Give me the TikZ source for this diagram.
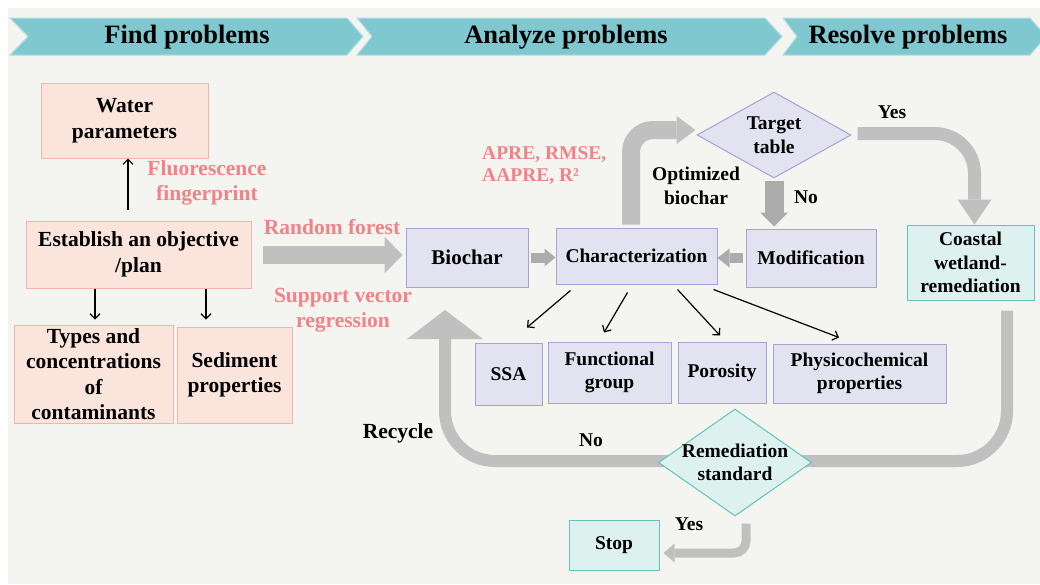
\documentclass[tikz,border=0pt]{standalone}
\usepackage{fontspec}
\setmainfont{Liberation Serif}
\usetikzlibrary{arrows.meta,shapes.geometric,calc}
\definecolor{bg}{RGB}{244,244,240}
\definecolor{chevF}{RGB}{128,200,208}
\definecolor{chevB}{RGB}{175,222,228}
\definecolor{pinkF}{RGB}{251,228,220}
\definecolor{pinkB}{RGB}{240,180,175}
\definecolor{pinkT}{RGB}{242,130,135}
\definecolor{purF}{RGB}{226,226,240}
\definecolor{purB}{RGB}{168,160,214}
\definecolor{tealF}{RGB}{221,241,239}
\definecolor{tealB}{RGB}{95,196,190}
\definecolor{greyA}{RGB}{192,192,192}
\definecolor{greyD}{RGB}{172,172,172}
\tikzset{
  hdr/.style={font=\fontsize{26.5}{30}\selectfont\bfseries},
  chev/.style={fill=chevF, draw=chevB, line width=1pt},
  pinkbox/.style={draw=pinkB, fill=pinkF, line width=1pt, align=center, inner sep=0pt,
    font=\fontsize{21.5}{25.5}\selectfont\bfseries},
  purbox/.style={draw=purB, fill=purF, line width=1pt, align=center, inner sep=0pt,
    font=\fontsize{19.5}{23.5}\selectfont\bfseries},
  tealbox/.style={draw=tealB, fill=tealF, line width=1pt, align=center, inner sep=0pt,
    font=\fontsize{19.5}{23.5}\selectfont\bfseries},
  pinktxt/.style={text=pinkT, align=center, inner sep=0pt,
    font=\fontsize{21.5}{25.5}\selectfont\bfseries},
  pinktxtR/.style={text=pinkT, align=left, inner sep=0pt,
    font=\fontsize{19.5}{22}\selectfont\bfseries},
  lbl/.style={align=center, inner sep=0pt, font=\fontsize{19.5}{23.5}\selectfont\bfseries},
  lblL/.style={align=center, inner sep=0pt, font=\fontsize{21.5}{25.5}\selectfont\bfseries},
  thinarrow/.style={line width=1.2pt, -{Straight Barb[length=5pt,width=10pt]}},
  garrow/.style={draw=greyA, line cap=butt},
  garrowD/.style={draw=greyD, line cap=butt},
}
\begin{document}
\begin{tikzpicture}[x=1pt,y=-1pt]
\useasboundingbox (0,0) rectangle (1040,584);
\fill[white] (0,0) rectangle (1040,584);
\fill[bg] (8,8) rectangle (1040,584);

% header chevrons
\path[chev] (10,18) -- (347,18) -- (363,36.5) -- (347,55) -- (10,55) -- (28,36.5) -- cycle;
\path[chev] (357,18) -- (765,18) -- (782,36.5) -- (765,55) -- (357,55) -- (372,36.5) -- cycle;
\path[chev] (783,18) -- (1030,18) -- (1046,36.5) -- (1030,55) -- (783,55) -- (797,36.5) -- cycle;
\node[hdr] (h1) at (187,37) {Find problems};
\node[hdr] (h2) at (566,37) {Analyze problems};
\node[hdr] (h3) at (908,37) {Resolve problems};

% left boxes
\node[pinkbox, minimum width=167pt, minimum height=75pt] (water) at (124.5,120.5) {Water\\parameters};
\node[pinkbox, minimum width=225pt, minimum height=67pt] (est) at (138.5,254.5) {Establish an objective\\/plan};
\node[pinkbox, minimum width=159pt, minimum height=98pt] (types) at (93.5,374) {Types and\\concentrations\\of\\contaminants};
\node[pinkbox, minimum width=115pt, minimum height=96pt] (sed) at (234.5,375) {Sediment\\properties};

\coordinate (a1s) at ($(est.north)+(-10.5,-11)$);
\coordinate (a1e) at (a1s |- water.south);
\coordinate (a2s) at ($(est.south)+(-43.5,0)$);
\coordinate (a2e) at ($(a2s |- types.north)+(0,-5)$);
\coordinate (a3s) at ($(est.south)+(67.5,0)$);
\coordinate (a3e) at ($(a3s |- sed.north)+(0,-7)$);
\draw[thinarrow] (a1s) -- (a1e);
\draw[thinarrow] (a2s) -- (a2e);
\draw[thinarrow] (a3s) -- (a3e);

\node[pinktxt] (fluo) at (207,183) {Fluorescence\\fingerprint};
\node[pinktxt] (rf) at (332,227) {Random forest};
\node[pinktxt] (svr) at (343,310) {Support vector\\regression};

% right boxes
\node[purbox, minimum width=122pt, minimum height=59pt, font=\fontsize{21}{25}\selectfont\bfseries] (bio) at (467,257.5) {Biochar};
\node[purbox, minimum width=161pt, minimum height=56pt] (char) at (636.5,256) {Characterization};
\node[purbox, minimum width=130pt, minimum height=58pt] (mod) at (811,258) {Modification};
\node[tealbox, minimum width=127pt, minimum height=75pt] (coast) at (970.5,262.5) {Coastal\\wetland-\\remediation};
\node[purbox, minimum width=67pt, minimum height=62pt] (ssa) at (508.5,374) {SSA};
\node[purbox, minimum width=123pt, minimum height=61pt] (fg) at (609.5,372.5) {Functional\\group};
\node[purbox, minimum width=88pt, minimum height=61pt] (por) at (722,372.5) {Porosity};
\node[purbox, minimum width=173pt, minimum height=59pt] (phys) at (859.5,373.5) {Physicochemical\\properties};
\node[tealbox, minimum width=90pt, minimum height=50pt] (stop) at (614,545) {Stop};

% big grey arrows
\draw[garrow, line width=18pt, -{Triangle[length=18pt,width=37pt,line width=0pt]}]
  ($(est.east)+(11,0.5)$) -- ($(est.east -| bio.west)+(-3,0.5)$);
\draw[garrowD, line width=10pt, -{Triangle[length=11pt,width=18pt,line width=0pt]}]
  ($(bio.east)+(2,0)$) -- (bio.east -| char.west);
\draw[garrowD, line width=10pt, -{Triangle[length=12pt,width=19pt,line width=0pt]}]
  ($(mod.west)+(-3,0)$) -- (mod.west -| char.east);

% diamonds
\node[diamond, draw=purB, fill=purF, line width=1pt, inner sep=0pt, minimum width=154pt, minimum height=86pt,
  label={[lbl]center:Target\\table}] (tgt) at (774,135) {};

\coordinate (rtip) at (445,310);
\draw[garrow, line width=12pt, rounded corners=50pt, -{Triangle[length=29pt,width=76pt,line width=0pt]}]
  ($(coast.south)+(36.5,10)$) |- (445,461) -- (rtip);

\node[diamond, draw=tealB, fill=tealF, line width=1pt, inner sep=0pt, minimum width=153pt, minimum height=107pt,
  label={[lbl]center:Remediation\\standard}] (rem) at (735,462.5) {};

\draw[garrow, line width=18pt, rounded corners=22pt, -{Triangle[length=19pt,width=28pt,line width=0pt]}]
  ($(char.north)+(-5.5,-3)$) |- ($(tgt.west)+(-1,-5)$);
\draw[garrowD, line width=19pt, -{Triangle[length=14pt,width=28pt,line width=0pt]}]
  ($(tgt.south)+(0,2)$) -- ($(tgt.south |- mod.north)+(0,-2)$);
\draw[garrow, line width=13pt, rounded corners=40pt, -{Triangle[length=25pt,width=34pt,line width=0pt]}]
  ($(tgt.east)+(6,-1.5)$) -| ($(coast.north)+(4,0)$);
\draw[garrow, line width=9pt, rounded corners=12pt, -{Triangle[length=11pt,width=19pt,line width=0pt]}]
  ($(rem.south)+(11,7)$) |- ($(stop.east)+(4,8)$);

% thin arrows from characterization
\draw[thinarrow] ($(char.south west)+(15,6)$) -- ($(ssa.north)+(18.5,-15)$);
\draw[thinarrow] ($(char.south west)+(72,8)$) -- ($(fg.north)+(-5.5,-9)$);
\draw[thinarrow] ($(char.south west)+(122,5)$) -- ($(por.north)+(-2,-6)$);
\draw[thinarrow] ($(char.south west)+(158,5)$) -- ($(phys.north)+(-20.5,-6)$);

% labels
\node[pinktxtR, anchor=west] (apre) at (482,166) {APRE, RMSE,\\AAPRE, R²};
\node[lbl] (opt) at (696,186) {Optimized\\biochar};
\node[lbl] (no1) at (806,197) {No};
\node[lbl] (yes1) at (892,112) {Yes};
\node[lblL] (rec) at (398,433) {Recycle};
\node[lbl] (no2) at (591,440) {No};
\node[lbl] (yes2) at (689,524) {Yes};
\end{tikzpicture}
\end{document}
